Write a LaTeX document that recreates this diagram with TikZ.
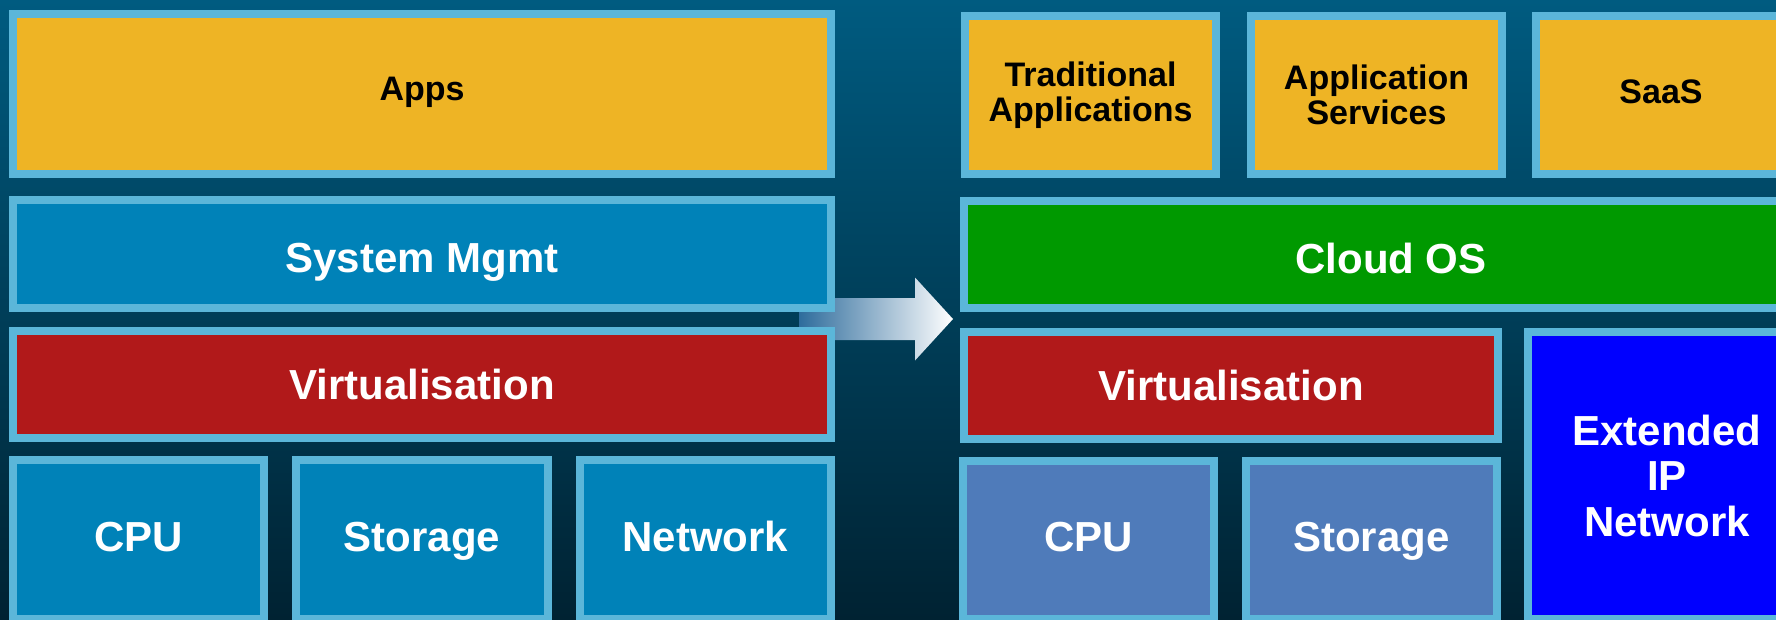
\documentclass[tikz,border=0pt]{standalone}
\usepackage{fontspec}
\setmainfont{Liberation Sans}
\usepackage{xcolor}
\usepackage{tikz}
\usetikzlibrary{calc}

\definecolor{bgtop}{RGB}{0,91,128}
\definecolor{bgbot}{RGB}{0,34,50}
\definecolor{rim}{RGB}{91,182,217}
\definecolor{appyellow}{RGB}{238,180,37}
\definecolor{mgmtblue}{RGB}{0,130,184}
\definecolor{virtred}{RGB}{177,25,26}
\definecolor{cloudgreen}{RGB}{0,153,0}
\definecolor{hwblue}{RGB}{79,123,186}
\definecolor{netblue}{RGB}{0,0,255}
\definecolor{arrowdark}{RGB}{46,108,156}
\definecolor{arrowmid}{RGB}{200,207,220}

\tikzset{
  layer/.style={rectangle, draw=rim, line width=8pt, inner sep=0pt, align=center},
  whitetext/.style={layer, text=white, font=\fontsize{42}{45.5}\selectfont\bfseries},
  blacktext/.style={layer, text=black, font=\fontsize{34}{35}\selectfont\bfseries},
  oneline/.style={text height=30pt, text depth=0pt},
  onelinesmall/.style={text height=24.4pt, text depth=0pt},
  wh/.style 2 args={minimum width=#1pt, minimum height=#2pt},
}

\begin{document}
\begin{tikzpicture}[x=1pt,y=-1pt]
 	\clip (0,0) rectangle (1776,619);
 	\shade[top color=bgtop, bottom color=bgbot] (0,0) rectangle (1776,619);
 	% migration arrow, sits behind the boxes
 	\coordinate (arrtail) at (799,319);
 	\coordinate (arrtip) at (953,319);
 	\shade[left color=arrowdark, middle color=arrowmid, right color=white]
 	  ($(arrtail)+(0,-21)$) -- ($(arrtip)+(-38,-21)$) -- ($(arrtip)+(-38,-41.5)$) -- (arrtip)
 	  -- ($(arrtip)+(-38,41.5)$) -- ($(arrtip)+(-38,21)$) -- ($(arrtail)+(0,21)$) -- cycle;
 	% left stack
 	\node[blacktext, onelinesmall, text depth=11pt, fill=appyellow, wh={818}{160}] (apps) at (422,94) {Apps};
 	\node[whitetext, oneline, text height=37pt, fill=mgmtblue, wh={818}{108}] (sysmgmt) at (422,254) {System Mgmt};
 	\node[whitetext, oneline, fill=virtred, wh={818}{107}] (virtl) at (422,384.5) {Virtualisation};
 	\node[whitetext, oneline, text depth=7pt, fill=mgmtblue, wh={251}{159}] (cpul) at (138.5,539.5) {CPU};
 	\node[whitetext, oneline, text depth=7pt, fill=mgmtblue, wh={252}{159}] (storl) at (422,539.5) {Storage};
 	\node[whitetext, oneline, text depth=7pt, fill=mgmtblue, wh={251}{159}] (netl) at (705.5,539.5) {Network};
 	% right stack
 	\node[blacktext, fill=appyellow, wh={251}{158}] (tradapp) at (1090.5,95) {Traditional\\Applications};
 	\node[blacktext, fill=appyellow, wh={251}{158}] (appserv) at (1376.5,95) {Application\\Services};
 	\node[blacktext, onelinesmall, text depth=8pt, fill=appyellow, wh={250}{158}] (saas) at (1661,95) {SaaS};
 	\node[whitetext, oneline, text height=38pt, fill=cloudgreen, wh={854}{107}] (cloudos) at (1391,254.5) {Cloud OS};
 	\node[whitetext, oneline, fill=virtred, wh={534}{107}] (virtr) at (1231,385.5) {Virtualisation};
 	\node[whitetext, oneline, text depth=7pt, fill=hwblue, wh={251}{158}] (cpur) at (1088.5,540) {CPU};
 	\node[whitetext, oneline, text depth=7pt, fill=hwblue, wh={251}{158}] (storr) at (1371.5,540) {Storage};
 	\node[whitetext, fill=netblue, wh={278}{287}] (extnet) at (1667,475.5) {Extended\\IP\\Network};
\end{tikzpicture}
\end{document}
